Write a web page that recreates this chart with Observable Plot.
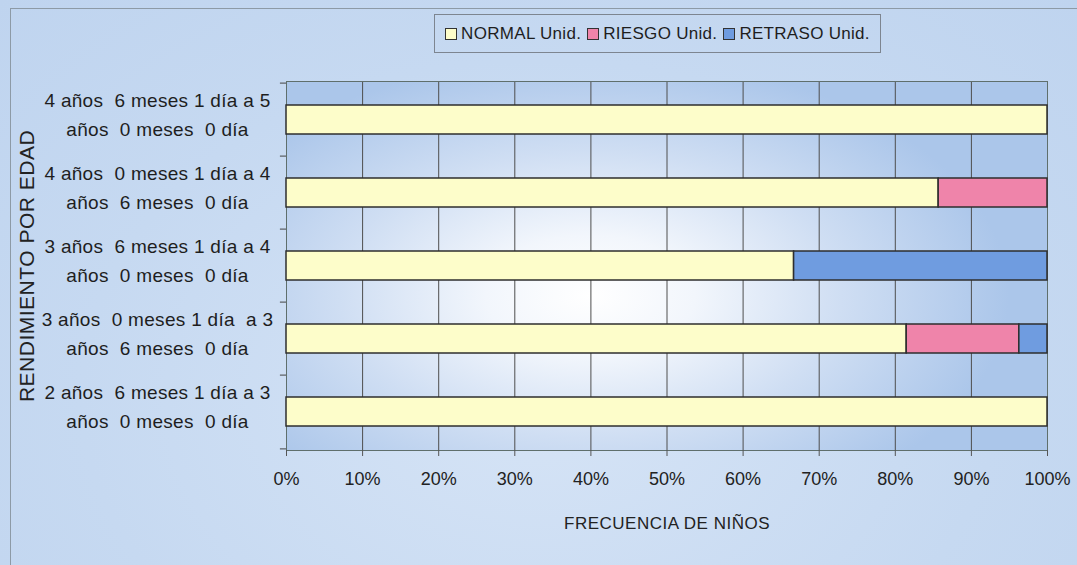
<!DOCTYPE html>
<html>
<head>
<meta charset="utf-8">
<script src="https://cdn.jsdelivr.net/npm/d3@7"></script>
<script src="https://cdn.jsdelivr.net/npm/@observablehq/plot@0.6"></script>
<style>
  html, body { margin: 0; padding: 0; background: #c7d9f1; }
  #chart { position: relative; width: 1077px; height: 565px; overflow: hidden;
    background: radial-gradient(ellipse at 50% 70%, #d6e4f6 0%, #c6d9f1 60%, #bfd4ef 100%);
    font-family: "Liberation Sans", Arial, sans-serif; }
  #border { position: absolute; left: 10px; top: 8px; width: 1120px; height: 620px; border: 1px solid #8d9aa6; }
  #plotbg { position: absolute; left: 286px; top: 81px; width: 761px; height: 369px;
    background: radial-gradient(ellipse 55% 65% at 40% 58%, #ffffff 0%, #f2f6fc 25%, #cfdef3 60%, #abc6ea 100%); }
  #legend { position: absolute; left: 434px; top: 14px; width: 447px; height: 39px; border: 1px solid #7d8590;
    display: flex; align-items: center; justify-content: center; gap: 6px; font-size: 17px; color: #1e1e1e;
    letter-spacing: 0.3px; white-space: nowrap; box-sizing: border-box; }
  #legend .item { display: flex; align-items: center; gap: 4px; white-space: nowrap; }
  #legend .sw { width: 10px; height: 10px; border: 1px solid #333; flex: none; }
  #chart svg { position: absolute; left: 0; top: 0; }
  #chart svg text { white-space: pre; }
  #chart svg g[aria-label="y-axis tick label"] text { font-size: 19px; letter-spacing: 0.3px; }
</style>
</head>
<body>
<div id="chart">
  <div id="border"></div>
  <div id="plotbg"></div>
  <div id="legend"></div>
</div>
<script>
// Categories, top to bottom
const ageGroups = [
  "4 años  6 meses 1 día a 5\naños  0 meses  0 día",
  "4 años  0 meses 1 día a 4\naños  6 meses  0 día",
  "3 años  6 meses 1 día a 4\naños  0 meses  0 día",
  "3 años  0 meses 1 día  a 3\naños  6 meses  0 día",
  "2 años  6 meses 1 día a 3\naños  0 meses  0 día"
];
// Series values (percent of children)
const normal  = [100, 85.7, 66.7, 81.5, 100];
const riesgo  = [0, 14.3, 0, 14.8, 0];
const retraso = [0, 0, 33.3, 3.7, 0];
const seriesNames = ["NORMAL Unid.", "RIESGO Unid.", "RETRASO Unid."];
const seriesColors = ["#fdfdca", "#ef84aa", "#6f9ce0"];
const xTicks = [0, 10, 20, 30, 40, 50, 60, 70, 80, 90, 100];
const xTitle = "FRECUENCIA DE NIÑOS";
const yTitle = "RENDIMIENTO POR EDAD";

const seriesValues = [normal, riesgo, retraso];
const rows = ageGroups.flatMap((g, i) =>
  seriesNames.map((s, j) => ({group: g, serie: s, value: seriesValues[j][i]})));

const W = 1077, H = 565, mL = 286, mR = 30, mT = 81, mB = 115;
const pIn = 0.6, pOut = 0.3;
const step = (H - mT - mB) / (ageGroups.length - pIn + 2 * pOut);

const chart = Plot.plot({
  width: W, height: H,
  marginLeft: mL, marginRight: mR, marginTop: mT, marginBottom: mB,
  style: {background: "transparent", fontFamily: "'Liberation Sans', Arial, sans-serif", fontSize: "18px", color: "#222"},
  x: {domain: [0, 100]},
  y: {domain: ageGroups, paddingInner: pIn, paddingOuter: pOut},
  color: {domain: seriesNames, range: seriesColors},
  marks: [
    Plot.gridX(xTicks, {stroke: "#4e4e4e", strokeOpacity: 1, strokeWidth: 1}),
    Plot.frame({stroke: "#5f6f6c", strokeWidth: 1}),
    Plot.barX(rows, Plot.stackX({x: "value", y: "group", fill: "serie", stroke: "#2e2e2e", strokeWidth: 1.5, order: seriesNames})),
    Plot.ruleY(ageGroups, {y: d => d, x1: -0.8, x2: 0, dy: -step / 2, stroke: "#444"}),
    Plot.ruleY(ageGroups.slice(-1), {y: d => d, x1: -0.8, x2: 0, dy: step / 2, stroke: "#444"}),
    Plot.axisX(xTicks, {tickSize: 6, tickPadding: 16, tickFormat: d => d + "%", label: null, stroke: "#555", fill: "#222"}),
    Plot.axisY({tickSize: 0, tickPadding: 0, textAnchor: "middle", dx: -129, dy: -8, lineHeight: 1.55, label: null, fill: "#1e1e1e"}),
    Plot.text([xTitle], {frameAnchor: "bottom", dy: 78, text: d => d, fontSize: 17, fill: "#222"}),
    Plot.text([yTitle], {frameAnchor: "left", rotate: -90, textAnchor: "middle", dx: -259, dy: 0, text: d => d, fontSize: 21, fill: "#222"})
  ]
});
document.getElementById("chart").appendChild(chart);
d3.select(chart).selectAll('g[aria-label="text"] text').attr("letter-spacing", "0.5px");

const legend = d3.select("#legend");
seriesNames.forEach((s, i) => {
  const item = legend.append("div").attr("class", "item");
  item.append("div").attr("class", "sw").style("background", seriesColors[i]);
  item.append("span").text(s);
});
</script>
</body>
</html>
